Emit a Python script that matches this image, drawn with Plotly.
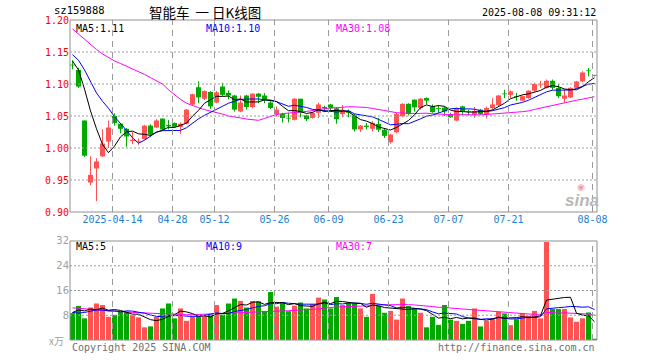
import numpy as np
import pandas as pd
import plotly.graph_objects as go

# ---------------- data ----------------
dates = [
    "04-02", "04-03", "04-07", "04-08", "04-09", "04-10", "04-11", "04-14", "04-15", "04-16",
    "04-17", "04-18", "04-21", "04-22", "04-23", "04-24", "04-25", "04-28", "04-29", "04-30",
    "05-06", "05-07", "05-08", "05-09", "05-12", "05-13", "05-14", "05-15", "05-16", "05-19",
    "05-20", "05-21", "05-22", "05-23", "05-26", "05-27", "05-28", "05-29", "05-30", "06-03",
    "06-04", "06-05", "06-06", "06-09", "06-10", "06-11", "06-12", "06-13", "06-16", "06-17",
    "06-18", "06-19", "06-20", "06-23", "06-24", "06-25", "06-26", "06-27", "06-30", "07-01",
    "07-02", "07-03", "07-04", "07-07", "07-08", "07-09", "07-10", "07-11", "07-14", "07-15",
    "07-16", "07-17", "07-18", "07-21", "07-22", "07-23", "07-24", "07-25", "07-28", "07-29",
    "07-30", "07-31", "08-01", "08-04", "08-05", "08-06", "08-07", "08-08",
]
opens = [
    1.130, 1.122, 1.043, 0.946, 0.968, 0.987, 1.010, 1.050, 1.038, 1.030,
    1.011, 1.010, 1.014, 1.035, 1.032, 1.046, 1.036, 1.039, 1.033, 1.038,
    1.068, 1.095, 1.077, 1.0875, 1.071, 1.096, 1.086, 1.082, 1.057, 1.082,
    1.064, 1.085, 1.082, 1.071, 1.053, 1.053, 1.047, 1.044, 1.077, 1.051,
    1.047, 1.055, 1.064, 1.068, 1.062, 1.053, 1.058, 1.051, 1.029, 1.035,
    1.030, 1.0375, 1.0285, 1.009, 1.0245, 1.0495, 1.069, 1.0755, 1.0625, 1.078,
    1.065, 1.062, 1.063, 1.053, 1.043, 1.065, 1.057, 1.052, 1.060, 1.053,
    1.0625, 1.067, 1.085, 1.083, 1.081, 1.074, 1.078, 1.0896, 1.098, 1.094,
    1.105, 1.094, 1.077, 1.079, 1.094, 1.104, 1.121, 1.114,
]
highs = [
    1.137, 1.125, 1.043, 0.987, 0.984, 1.029, 1.043, 1.054, 1.039, 1.031,
    1.025, 1.015, 1.036, 1.037, 1.045, 1.046, 1.044, 1.040, 1.040, 1.061,
    1.085, 1.104, 1.090, 1.089, 1.089, 1.102, 1.090, 1.083, 1.082, 1.083,
    1.085, 1.086, 1.086, 1.073, 1.065, 1.055, 1.055, 1.078, 1.077, 1.052,
    1.056, 1.071, 1.066, 1.069, 1.064, 1.067, 1.060, 1.053, 1.036, 1.039,
    1.042, 1.047, 1.031, 1.022, 1.055, 1.070, 1.070, 1.076, 1.078, 1.079,
    1.068, 1.067, 1.065, 1.055, 1.063, 1.066, 1.060, 1.064, 1.061, 1.065,
    1.078, 1.083, 1.091, 1.090, 1.086, 1.082, 1.090, 1.102, 1.105, 1.107,
    1.107, 1.100, 1.091, 1.095, 1.105, 1.120, 1.125, 1.114,
]
lows = [
    1.123, 1.094, 0.986, 0.942, 0.917, 0.986, 1.000, 1.035, 1.023, 1.002,
    1.006, 1.005, 1.013, 1.017, 1.031, 1.027, 1.029, 1.031, 1.022, 1.037,
    1.067, 1.070, 1.075, 1.061, 1.070, 1.081, 1.076, 1.057, 1.056, 1.060,
    1.062, 1.070, 1.070, 1.061, 1.049, 1.040, 1.040, 1.043, 1.048, 1.042,
    1.046, 1.047, 1.056, 1.058, 1.038, 1.048, 1.048, 1.026, 1.025, 1.029,
    1.026, 1.025, 1.0155, 1.007, 1.023, 1.048, 1.051, 1.057, 1.060, 1.068,
    1.055, 1.055, 1.050, 1.047, 1.042, 1.052, 1.051, 1.047, 1.052, 1.046,
    1.060, 1.065, 1.078, 1.078, 1.074, 1.073, 1.077, 1.088, 1.094, 1.093,
    1.091, 1.078, 1.071, 1.078, 1.093, 1.103, 1.112, 1.112,
]
closes = [
    1.129, 1.096, 0.988, 0.958, 0.979, 1.007, 1.032, 1.039, 1.030, 1.018,
    1.013, 1.011, 1.035, 1.021, 1.043, 1.029, 1.034, 1.033, 1.038, 1.060,
    1.084, 1.079, 1.089, 1.065, 1.087, 1.083, 1.082, 1.060, 1.071, 1.064,
    1.085, 1.080, 1.076, 1.0625, 1.060, 1.047, 1.046, 1.077, 1.055, 1.045,
    1.055, 1.068, 1.062, 1.062, 1.045, 1.058, 1.055, 1.029, 1.035, 1.033,
    1.039, 1.0285, 1.019, 1.021, 1.053, 1.069, 1.053, 1.0635, 1.077, 1.074,
    1.056, 1.061, 1.057, 1.048, 1.0625, 1.057, 1.056, 1.058, 1.053, 1.0625,
    1.068, 1.082, 1.084, 1.0885, 1.080, 1.081, 1.0896, 1.100, 1.099, 1.105,
    1.094, 1.081, 1.082, 1.094, 1.104, 1.118, 1.120, 1.113,
]
volumes = [
    8.7, 11.0, 7.0, 10.5, 11.8, 11.3, 7.5, 8.1, 9.1, 9.1,
    8.0, 7.3, 4.1, 4.4, 7.5, 10.2, 11.8, 7.0, 10.2, 6.2,
    7.5, 7.5, 7.7, 8.2, 11.3, 8.2, 11.8, 13.4, 12.6, 10.5,
    12.6, 12.5, 9.4, 15.5, 10.8, 12.2, 9.3, 11.1, 12.1, 10.2,
    11.6, 13.7, 13.1, 10.2, 13.9, 11.3, 12.1, 11.8, 10.2, 7.5,
    14.9, 11.0, 8.8, 9.4, 6.6, 13.4, 11.0, 10.2, 8.8, 4.1,
    7.5, 4.9, 11.3, 6.6, 6.2, 5.2, 6.2, 10.2, 4.4, 6.2,
    7.0, 9.1, 8.6, 4.8, 6.7, 8.6, 7.8, 9.4, 7.0, 31.7,
    10.0, 10.0, 10.0, 7.3, 5.9, 7.0, 8.9, 0.4,
]
# moving-average values before enough history is on the chart
ma5_head = [1.136, 1.122, 1.092, 1.058]
ma10_head = [1.146, 1.137, 1.122, 1.103, 1.086, 1.073, 1.062, 1.049, 1.039]
ma30_head = [1.186, 1.178, 1.169, 1.161, 1.154, 1.147, 1.141, 1.136, 1.132, 1.128,
             1.124, 1.119, 1.115, 1.110, 1.105, 1.100, 1.091, 1.083, 1.076, 1.070,
             1.066, 1.063, 1.060, 1.058, 1.055, 1.053, 1.050, 1.048, 1.047]
vma5_head = [8.9, 9.7, 9.4, 10.0]
vma10_head = [8.9, 8.7, 8.9, 9.4, 9.7, 9.7, 9.4, 9.4, 9.1]
vma30_head = [10.4, 10.3, 10.1, 10.0, 9.8, 9.6, 9.4, 9.2, 9.1, 9.0,
              8.9, 8.8, 8.7, 8.6, 8.5, 8.4, 8.3, 8.3, 8.2, 8.2,
              8.2, 8.2, 8.3, 8.4, 8.5, 8.6, 8.7, 8.8, 8.9]

tick_dates = ["04-14", "04-28", "05-12", "05-26", "06-09", "06-23", "07-07", "07-21", "08-08"]
tick_text = ["2025-04-14", "04-28", "05-12", "05-26", "06-09", "06-23", "07-07", "07-21", "08-08"]
price_ticks = [0.90, 0.95, 1.00, 1.05, 1.10, 1.15, 1.20]
vol_ticks = [8, 16, 24, 32]

# ---------------- derived ----------------
def moving_avg(values, n, head):
    s = pd.Series(values, dtype=float).rolling(n).mean().to_numpy()
    s[: n - 1] = head
    return s.tolist()

x = list(range(len(dates)))
up = [cl >= op for op, cl in zip(opens, closes)]
RED = "#ff5353"
GREEN = "#00a800"
colors = [RED if u else GREEN for u in up]

body_lo = [min(op, cl) for op, cl in zip(opens, closes)]
body_h = [max(abs(cl - op), 0.0012) for op, cl in zip(opens, closes)]

ma5 = moving_avg(closes, 5, ma5_head)
ma10 = moving_avg(closes, 10, ma10_head)
ma30 = moving_avg(closes, 30, ma30_head)
vma5 = moving_avg(volumes, 5, vma5_head)
vma10 = moving_avg(volumes, 10, vma10_head)
vma30 = moving_avg(volumes, 30, vma30_head)

def wick_xy(want_up):
    xs, ys = [], []
    for i in x:
        if up[i] == want_up:
            xs += [i, i, None]
            ys += [lows[i], highs[i], None]
    return xs, ys

fig = go.Figure()
for want, col in ((True, RED), (False, GREEN)):
    wx, wy = wick_xy(want)
    fig.add_trace(go.Scatter(x=wx, y=wy, mode="lines", line=dict(color=col, width=1),
                             xaxis="x", yaxis="y", hoverinfo="skip"))
fig.add_trace(go.Bar(x=x, y=body_h, base=body_lo, width=5 / 6, marker=dict(color=colors, line=dict(width=0)),
                     xaxis="x", yaxis="y", hoverinfo="skip"))
for ser, col in ((ma30, "#ff00ff"), (ma10, "#0000ff"), (ma5, "#000000")):
    fig.add_trace(go.Scatter(x=x, y=ser, mode="lines", line=dict(color=col, width=1),
                             xaxis="x", yaxis="y", hoverinfo="skip"))

fig.add_trace(go.Bar(x=x, y=volumes, width=5 / 6, marker=dict(color=colors, line=dict(width=0)),
                     xaxis="x2", yaxis="y2", hoverinfo="skip"))
for ser, col in ((vma30, "#ff00ff"), (vma10, "#0000ff"), (vma5, "#000000")):
    fig.add_trace(go.Scatter(x=x, y=ser, mode="lines", line=dict(color=col, width=1),
                             xaxis="x2", yaxis="y2", hoverinfo="skip"))

grid_off = 1 / 3  # grid line sits at the left edge of the candle
tickvals = [dates.index(d) - grid_off for d in tick_dates]

W, H = 660, 360
L, R, T, B = 70, 63, 20, 20
MONO = "DejaVu Sans Mono, Liberation Mono, monospace"
GRIDC = "#9a9a9a"
BORDER = "#909090"
X0 = -0.4167  # left edge of the plot in day units
XR = [X0, X0 + 527 / 6]

fig.update_layout(
    width=W, height=H, margin=dict(l=L, r=R, t=T, b=B),
    paper_bgcolor="white", plot_bgcolor="rgba(0,0,0,0)", showlegend=False, barmode="overlay",
    xaxis=dict(domain=[0, 1], anchor="y", range=XR, tickvals=tickvals, ticktext=tick_text,
               tickfont=dict(family=MONO, size=10, color="#1a7fd6"), ticks="", showgrid=False, zeroline=False),
    yaxis=dict(domain=[0.4, 1.0], anchor="x", range=[0.90, 1.20], tickvals=price_ticks,
               ticktext=[f"{v:.2f}" for v in price_ticks], tickfont=dict(family=MONO, size=10, color="#ff0000"),
               ticks="", showgrid=False, zeroline=False),
    xaxis2=dict(domain=[0, 1], anchor="y2", range=XR, tickvals=tickvals, showticklabels=False, ticks="",
                showgrid=False, zeroline=False),
    yaxis2=dict(domain=[0, 0.3094], anchor="x2", range=[0, 32], tickvals=vol_ticks,
                tickfont=dict(family="DejaVu Sans, sans-serif", size=10, color="#a0a0a0"), ticks="",
                showgrid=False, zeroline=False),
)

# grid lines and frames, placed through the axes' own scales (drawn above so they always show)
for xa, ya, hticks in (("x", "y", price_ticks[1:-1]), ("x2", "y2", vol_ticks[:-1])):
    for v in tickvals:
        fig.add_shape(type="line", xref=xa, yref=f"{ya} domain", x0=v, x1=v, y0=0, y1=1, layer="above",
                      line=dict(color=GRIDC, width=1, dash="6px,5px"))
    for v in hticks:
        fig.add_shape(type="line", xref=f"{xa} domain", yref=ya, x0=0, x1=1, y0=v, y1=v, layer="above",
                      line=dict(color=GRIDC, width=1, dash="2px,2px"))
    fig.add_shape(type="rect", xref=f"{xa} domain", yref=f"{ya} domain", x0=0, x1=1, y0=0, y1=1,
                  layer="above", line=dict(color=BORDER, width=1), fillcolor="rgba(0,0,0,0)")

def px(xp):
    return (xp - L) / (W - L - R)

def py(yp):
    return 1 - (yp - T) / (H - T - B)

def note(text, xp, yp, color="#000", size=10, anchor="left", family=MONO):
    fig.add_annotation(text=text, x=px(xp), y=py(yp), xref="paper", yref="paper", showarrow=False,
                       xanchor=anchor, yanchor="middle", font=dict(family=family, size=size, color=color))

note("sz159888", 52, 10, size=10.5)
note("智能车 &nbsp;一 日K线图", 147, 12, size=13.5, family="Noto Sans CJK SC, sans-serif")
note("2025-08-08 09:31:12", 598, 12, size=10, anchor="right")
note("MA5:1.11", 74, 28)
note("MA10:1.10", 204, 28, color="#0000ff")
note("MA30:1.08", 334, 28, color="#ff00ff")
note("MA5:5", 74, 246)
note("MA10:9", 204, 246, color="#0000ff")
note("MA30:7", 334, 246, color="#ff00ff")
note("x万", 66, 340, color="#a0a0a0", size=10, anchor="right", family="Noto Sans CJK SC, sans-serif")
note("Copyright 2025 SINA.COM", 70, 347, color="#707070")
note("http://finance.sina.com.cn", 597, 347, color="#707070", anchor="right")
note("<b><i>sina</i></b>", 582, 200, color="#b8b8b8", size=17, anchor="center", family="Arial, Liberation Sans, sans-serif")
note("◉", 581, 187, color="#f0a0a0", size=9, anchor="center", family="DejaVu Sans, sans-serif")

fig.write_html("out.html", config={"displayModeBar": False, "staticPlot": True},
               post_script="document.body.style.margin='0';document.body.style.overflow='hidden';")
